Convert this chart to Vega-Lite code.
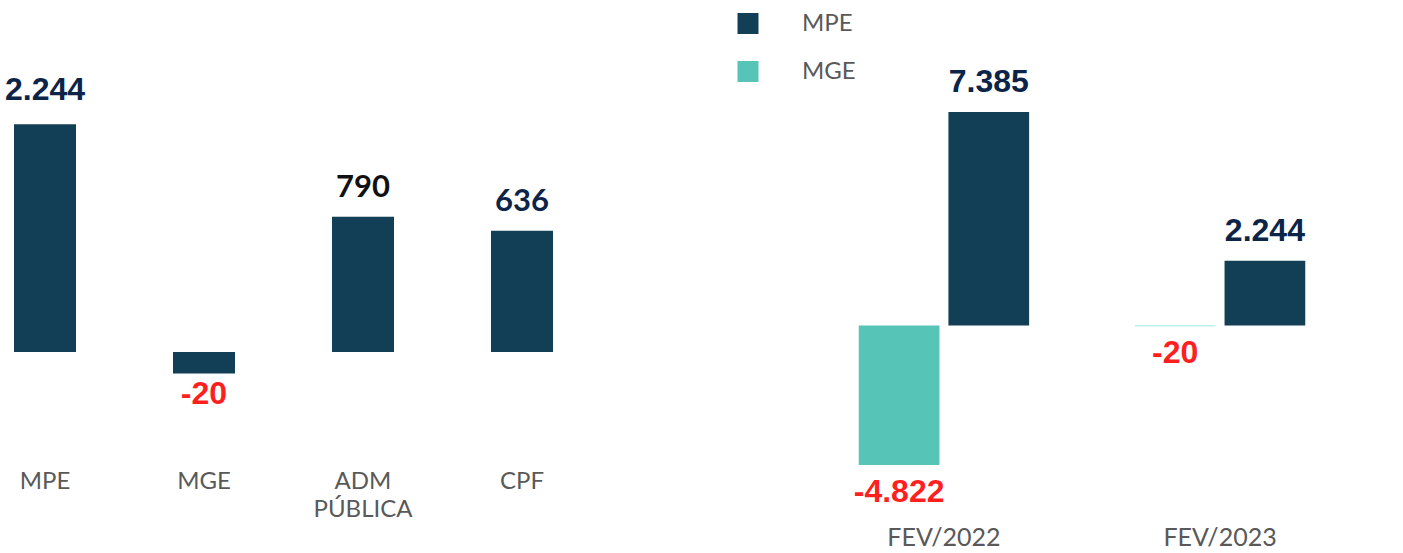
{
  "$schema": "https://vega.github.io/schema/vega-lite/v6.json",
  "padding": 0,
  "background": "white",
  "spacing": 194,
  "config": {
    "view": {"stroke": null},
    "locale": {
      "number": {"decimal": ",", "thousands": ".", "grouping": [3], "currency": ["R$", ""], "minus": "-"}
    },
    "axis": {"grid": false}
  },
  "datasets": {
    "setores": [
      {"categoria": "MPE", "saldo": 2244},
      {"categoria": "MGE", "saldo": -20},
      {"categoria": "ADM PÚBLICA", "saldo": 790},
      {"categoria": "CPF", "saldo": 636}
    ],
    "porte": [
      {"periodo": "FEV/2022", "porte": "MGE", "saldo": -4822},
      {"periodo": "FEV/2022", "porte": "MPE", "saldo": 7385},
      {"periodo": "FEV/2023", "porte": "MGE", "saldo": -20},
      {"periodo": "FEV/2023", "porte": "MPE", "saldo": 2244}
    ]
  },
  "hconcat": [
    {
      "width": 567,
      "height": 465,
      "data": {"name": "setores"},
      "encoding": {
        "x": {
          "field": "categoria",
          "type": "nominal",
          "sort": null,
          "scale": {"paddingInner": 0.61, "paddingOuter": 0.088},
          "axis": {
            "title": null,
            "domain": false,
            "ticks": false,
            "labelAngle": 0,
            "labelFont": "Lato",
            "labelFontSize": 24,
            "labelColor": "#595959",
            "labelPadding": 4,
            "labelLineHeight": 28,
            "labelLimit": 300,
            "labelExpr": "datum.label == 'ADM PÚBLICA' ? ['ADM', 'PÚBLICA'] : datum.label"
          }
        },
        "y": {
          "field": "saldo",
          "type": "quantitative",
          "scale": {"type": "sqrt", "domain": [-552, 5355], "nice": false, "zero": false},
          "axis": null
        }
      },
      "layer": [
        {"mark": {"type": "bar", "color": "#123f56"}},
        {
          "transform": [{"filter": "datum.categoria == 'MPE'"}],
          "mark": {"type": "text", "font": "Liberation Sans", "fontWeight": "bold", "fontSize": 32, "baseline": "alphabetic", "dy": -24, "color": "#0b2447"},
          "encoding": {"text": {"field": "saldo", "type": "quantitative", "format": ",d"}}
        },
        {
          "transform": [{"filter": "datum.categoria == 'ADM PÚBLICA' || datum.categoria == 'CPF'"}],
          "mark": {"type": "text", "font": "Lato", "fontWeight": "bold", "fontSize": 31, "baseline": "alphabetic", "dy": -20},
          "encoding": {
            "text": {"field": "saldo", "type": "quantitative", "format": ",d"},
            "color": {"condition": {"test": "datum.categoria == 'ADM PÚBLICA'", "value": "#111111"}, "value": "#0b2447"}
          }
        },
        {
          "transform": [{"filter": "datum.saldo < 0"}],
          "mark": {"type": "text", "font": "Liberation Sans", "fontWeight": "bold", "fontSize": 32, "baseline": "top", "dy": 5, "color": "#ff1f1f"},
          "encoding": {"text": {"field": "saldo", "type": "quantitative", "format": ",d"}}
        }
      ]
    },
    {
      "width": 642,
      "height": 519,
      "data": {"name": "porte"},
      "encoding": {
        "x": {
          "field": "periodo",
          "type": "nominal",
          "sort": null,
          "scale": {"paddingInner": 0.383, "paddingOuter": 0.354},
          "axis": {
            "title": null,
            "domain": false,
            "ticks": false,
            "labelAngle": 0,
            "labelFont": "Lato",
            "labelFontSize": 25,
            "labelColor": "#595959",
            "labelPadding": 6
          }
        },
        "xOffset": {
          "field": "porte",
          "type": "nominal",
          "sort": ["MGE", "MPE"],
          "scale": {"paddingInner": 0.1, "paddingOuter": 0}
        },
        "y": {
          "field": "saldo",
          "type": "quantitative",
          "scale": {"domain": [-6687, 11259], "nice": false, "zero": false},
          "axis": null
        }
      },
      "layer": [
        {
          "mark": {"type": "bar"},
          "encoding": {
            "color": {
              "field": "porte",
              "type": "nominal",
              "scale": {"domain": ["MPE", "MGE"], "range": ["#123f56", "#56c4b6"]},
              "condition": {"test": "datum.periodo == 'FEV/2023' && datum.porte == 'MGE'", "value": "#74e6d6"},
              "legend": {
                "title": null,
                "orient": "none",
                "legendX": 736,
                "legendY": 11.5,
                "padding": 0,
                "symbolType": "square",
                "symbolSize": 440,
                "symbolStrokeWidth": 0,
                "labelFont": "Lato",
                "labelFontSize": 24,
                "labelColor": "#595959",
                "labelOffset": 42,
                "rowPadding": 24
              }
            }
          }
        },
        {
          "transform": [{"filter": "datum.saldo > 0"}],
          "mark": {"type": "text", "font": "Liberation Sans", "fontWeight": "bold", "fontSize": 32, "baseline": "alphabetic", "dy": -20, "color": "#0b2447"},
          "encoding": {"text": {"field": "saldo", "type": "quantitative", "format": ",d"}}
        },
        {
          "transform": [{"filter": "datum.saldo < 0"}],
          "mark": {"type": "text", "font": "Liberation Sans", "fontWeight": "bold", "fontSize": 32, "baseline": "top", "dy": 12, "color": "#ff1f1f"},
          "encoding": {"text": {"field": "saldo", "type": "quantitative", "format": ",d"}}
        }
      ]
    }
  ]
}
